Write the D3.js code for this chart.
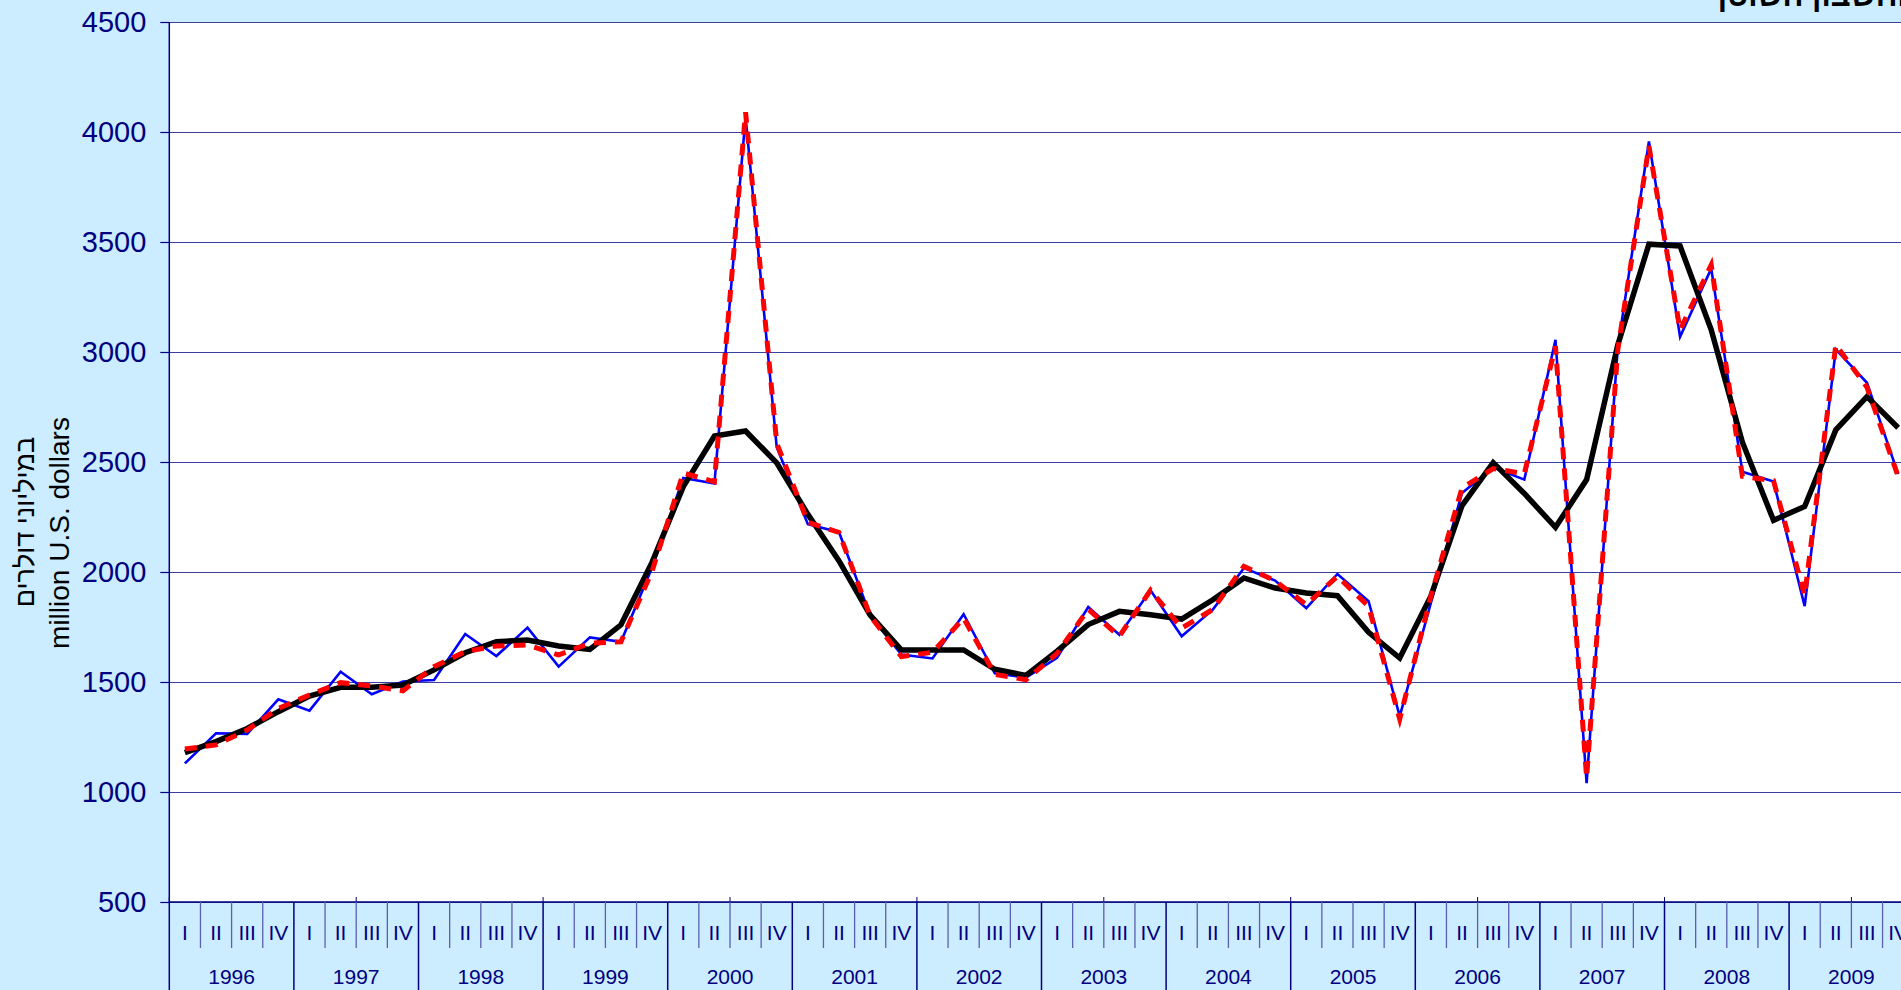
<!DOCTYPE html>
<html>
<head>
<meta charset="utf-8">
<script src="https://cdn.jsdelivr.net/npm/d3@7"></script>
<style>
  html, body { margin: 0; padding: 0; background: #CCECFF; overflow: hidden; }
  svg { display: block; }
  text { font-family: "Liberation Sans", Arial, sans-serif; }
</style>
</head>
<body>
<svg id="chart" width="1901" height="990"></svg>
<script>
// ---- data ----
const years = ["1996","1997","1998","1999","2000","2001","2002","2003","2004","2005","2006","2007","2008","2009"];
const quarterNames = ["I","II","III","IV"];
const yTicks = [500,1000,1500,2000,2500,3000,3500,4000,4500];

const seriesBlue = [
  1130,1267,1264,1421, 1370,1547,1444,1502, 1509,1718,1618,1747, 1570,1703,1683,2020,
  2427,2402,4070,2567, 2217,2181,1804,1625, 1607,1808,1539,1520,
  1610,1841,1715,1917, 1708,1829,2018,1961, 1836,1991,1867,1344,
  1860,2359,2475,2420, 3055,1040,3020,3957, 3069,3379,2456,2411,
  1845,3012,2860,2445
];
const seriesRed = [
  1195,1214,1282,1380, 1441,1497,1482,1460, 1570,1638,1664,1668, 1623,1676,1683,2005,
  2450,2410,4090,2585, 2226,2180,1800,1616, 1635,1790,1535,1510,
  1630,1830,1708,1917, 1745,1830,2026,1960, 1852,1980,1844,1332,
  1890,2382,2470,2447, 3026,1065,3010,3936, 3100,3396,2435,2415,
  1893,3032,2840,2435
];
const seriesBlack = [
  1179,1229,1289,1365, 1436,1476,1476,1486, 1555,1633,1683,1691, 1664,1648,1760,2045,
  2388,2618,2641,2496, 2262,2050,1804,1646, 1646,1646,1558,1530,
  1640,1761,1821,1806, 1786,1874,1973,1927, 1905,1892,1726,1609,
  1890,2302,2497,2357, 2203,2420,3032,3490, 3482,3101,2590,2235,
  2298,2646,2797,2656
];
const titleText = "החשבון השוטף";
const yTitleHe = "במיליוני דולרים";
const yTitleEn = "million U.S. dollars";

// ---- layout ----
const W = 1901, H = 990;
const plotLeft = 169.3, plotTop = 22, plotBottom = 902;
const qW = 31.15;
const nQ = years.length * 4;
const plotRight = plotLeft + nQ * qW;

const svg = d3.select("#chart");
const navy = "#000080";
const gridCol = "#3a3fa0";

svg.append("rect").attr("x",0).attr("y",0).attr("width",W).attr("height",H).attr("fill","#CCECFF");

const idx = d3.range(nQ);
const x = d3.scaleBand().domain(idx).range([plotLeft, plotRight]).padding(0);
const cx = i => x(i) + x.bandwidth()/2;
const y = d3.scaleLinear().domain([500,4500]).range([plotBottom, plotTop]);

// plot area
svg.append("rect").attr("x",plotLeft).attr("y",plotTop)
  .attr("width",plotRight-plotLeft).attr("height",plotBottom-plotTop).attr("fill","#ffffff");

// y axis with gridlines
const yAxis = d3.axisLeft(y).tickValues(yTicks).tickSize(0).tickPadding(23).tickFormat(d3.format("d"));
const gy = svg.append("g").attr("transform",`translate(${plotLeft},0)`).call(yAxis);
gy.select(".domain").remove();
gy.selectAll("text").attr("fill",navy).attr("font-size","29px");
gy.selectAll(".tick").append("line").attr("x1",-9).attr("x2",0).attr("stroke",navy).attr("stroke-width",1.2);
gy.selectAll(".tick").append("line").attr("x1",0).attr("x2",W).attr("stroke",gridCol).attr("stroke-width",1.2);

// left axis line
svg.append("line").attr("x1",plotLeft).attr("x2",plotLeft).attr("y1",plotTop).attr("y2",H)
  .attr("stroke",navy).attr("stroke-width",1.5);

// x axis: quarters
const gx = svg.append("g");
gx.append("line").attr("x1",plotLeft).attr("x2",W).attr("y1",plotBottom).attr("y2",plotBottom)
  .attr("stroke",navy).attr("stroke-width",1.5);
idx.forEach(i => {
  const q = i % 4;
  if (i > 0) {
    gx.append("line").attr("x1",x(i)).attr("x2",x(i)).attr("y1",plotBottom)
      .attr("y2", q === 0 ? H : 948)
      .attr("stroke", q === 0 ? navy : "#5a60b0").attr("stroke-width", q === 0 ? 1.5 : 1.3);
  }
  if (i % 6 === 0) {
    gx.append("line").attr("x1",x(i)).attr("x2",x(i)).attr("y1",plotBottom-5).attr("y2",plotBottom)
      .attr("stroke",navy).attr("stroke-width",1);
  }
  gx.append("text").attr("x",cx(i)).attr("y",940).attr("text-anchor","middle")
    .attr("font-size","21px").attr("fill",navy).text(quarterNames[q]);
});
years.forEach((yr,k) => {
  const xm = x(k*4) + 2*qW;
  gx.append("text").attr("x",xm).attr("y",984).attr("text-anchor","middle")
    .attr("font-size","21px").attr("fill",navy).text(yr);
});

// lines
const lineGen = d3.line().x((d,i) => cx(i)).y(d => y(d));
svg.append("path").datum(seriesBlue).attr("d",lineGen).attr("fill","none")
  .attr("stroke","#0000ff").attr("stroke-width",2.6).attr("stroke-linejoin","miter");
svg.append("path").datum(seriesBlack).attr("d",lineGen).attr("fill","none")
  .attr("stroke","#000000").attr("stroke-width",5.5).attr("stroke-linejoin","miter");
svg.append("path").datum(seriesRed).attr("d",lineGen).attr("fill","none")
  .attr("stroke","#ff0000").attr("stroke-width",5).attr("stroke-dasharray","12,9");

// y axis title
svg.append("text").attr("transform","translate(34,522) rotate(-90)").attr("text-anchor","middle")
  .attr("font-size","27px").attr("fill","#000").text(yTitleHe);
svg.append("text").attr("transform","translate(69,533) rotate(-90)").attr("text-anchor","middle")
  .attr("font-size","28px").attr("fill","#000").text(yTitleEn);

// title (cut off at top, as in the reference)
svg.append("text").attr("x",1706).attr("y",6).attr("text-anchor","start")
  .attr("font-size","31px").attr("font-weight","bold").attr("fill","#000").text(titleText);
</script>
</body>
</html>
